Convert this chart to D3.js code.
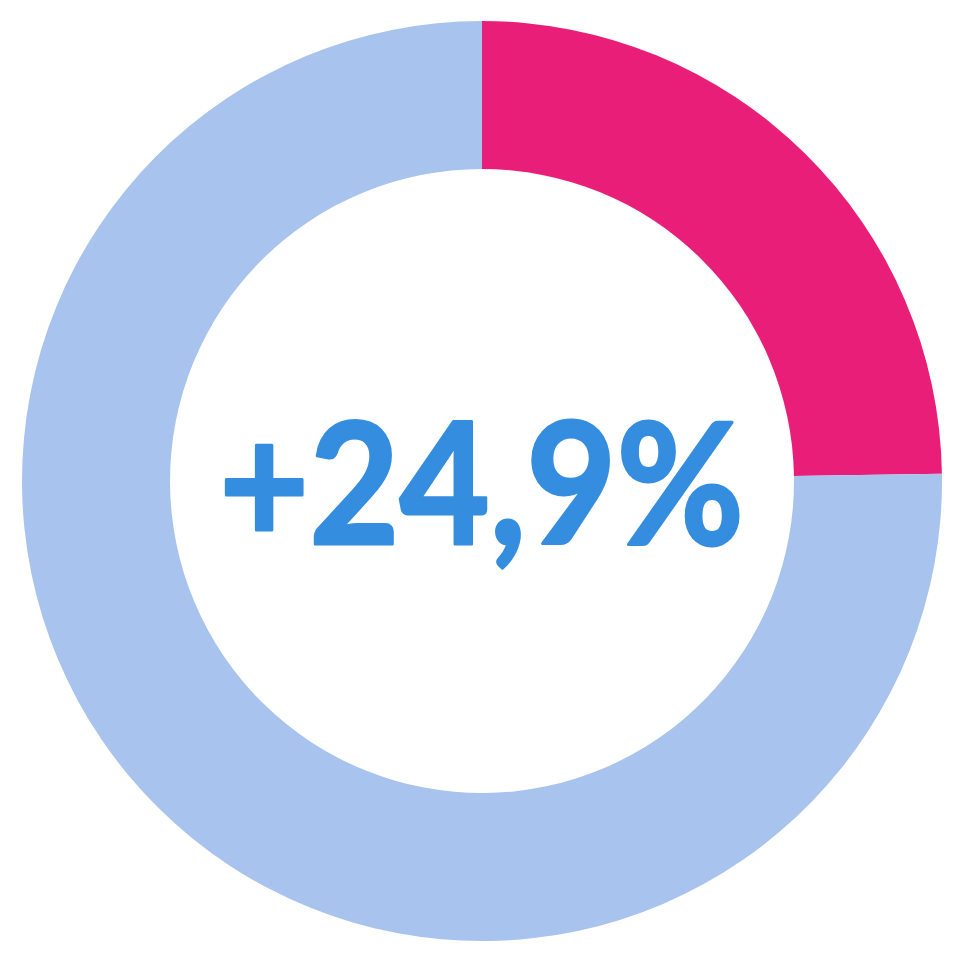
<!DOCTYPE html>
<html>
<head>
<meta charset="utf-8">
<script src="https://cdn.jsdelivr.net/npm/d3@7"></script>
<style>
  html, body { margin: 0; padding: 0; background: #fff; }
</style>
</head>
<body>
<svg width="959" height="959"></svg>
<script>
var categories = ['Change', 'Rest'];
var values = [24.75, 75.25];
var colors = ['#e91e78', '#a7c3ee'];
var label = '+24,9%';

var svg = d3.select('svg'),
  width = +svg.attr('width'),
  height = +svg.attr('height');

var cx = 482, cy = 481,
  outerR = 460, innerR = 312;

var g = svg.append('g')
  .attr('transform', 'translate(' + cx + ',' + cy + ')');

var pie = d3.pie().sort(null).value(function(d) { return d; });
var arc = d3.arc().innerRadius(innerR).outerRadius(outerR);

g.selectAll('.slice')
  .data(pie(values))
  .enter().append('path')
  .attr('class', 'slice')
  .attr('d', arc)
  .attr('fill', function(d, i) { return colors[i]; });

// big centre label, a bit of stroke to get it heavier
g.append('text')
  .attr('x', -263)
  .attr('y', 63)
  .attr('textLength', 525)
  .attr('lengthAdjust', 'spacingAndGlyphs')
  .attr('font-family', 'Lato, "Noto Sans", sans-serif')
  .attr('font-weight', 700)
  .attr('font-size', 168)
  .attr('fill', '#348ddf')
  .attr('stroke', '#348ddf')
  .attr('stroke-width', 3)
  .attr('stroke-linejoin', 'round')
  .text(label);
</script>
</body>
</html>
